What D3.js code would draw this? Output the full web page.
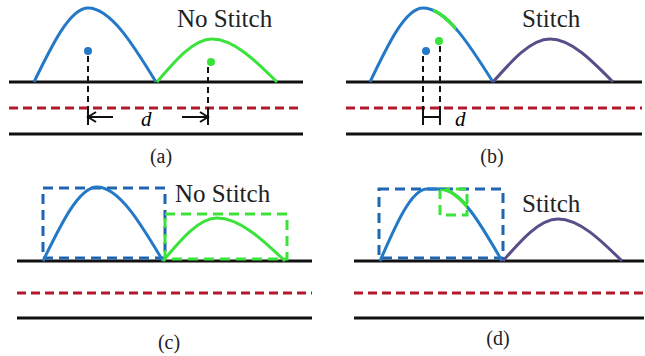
<!DOCTYPE html>
<html>
<head>
<meta charset="utf-8">
<script src="https://cdn.jsdelivr.net/npm/d3@7"></script>
<style>
  body { margin: 0; background: #fff; }
  svg { display: block; }
  text { font-family: "Liberation Serif", "Times New Roman", "DejaVu Serif", serif; }
</style>
</head>
<body>
<div id="viz"></div>
<script>
/*
 * Datos del diagrama (unidades locales de cada panel:
 * x = distancia desde el inicio de las pistas, y = altura sobre la pista superior)
 */
var panelLabels = ['(a)', '(b)', '(c)', '(d)'];
var panelTitles = ['No Stitch', 'Stitch', 'No Stitch', 'Stitch'];
var panelOriginX = [9, 346, 17, 354];
var panelBaseY = [82, 82, 261, 261];
var trackLevels = [[0, -26, -52], [0, -26, -52], [0, -32, -57], [0, -32, -57]];
var trackDashed = [false, true, false];
var trackLength = [294, 296, 295, 290];
var titleAt = [[168, 55], [176, 55], [158, 59], [168, 49]];
var labelAt = [[152, -81], [146, -81], [152, -88], [144, -84]];

//Arcos: [inicio, picoIzq, picoDer, fin, altura]
var firstArch = [[25, 79, 79, 147, 74], [24, 77, 77, 147, 74], [26, 80, 80, 146, 74], [26, 73, 86, 148, 72]];
var secondArch = [[148, 203, 203, 268, 43], [147, 204, 204, 267, 43], [146, 200, 200, 268, 43], [149, 204, 204, 268, 42]];
var secondStitched = [false, true, false, true];

//Centroides (paneles a y b): [x, altura, x de la linea vertical]
var blueDot = [[79, 31, 79], [80, 31, 77]];
var greenDot = [[202, 20, 199], [93, 41, 94]];
var distLabel = [[132, -44], [109, -44]];

//Segmento verde sobre el arco azul en (b): [x0, x1]
var stitchSpan = [87, 110];

//Cajas (paneles c y d): [x0, x1, alturaAbajo, alturaArriba]
var blueBox = [[26, 148, 3, 73], [25, 149, 3, 72]];
var greenBox = [[148, 270, 2, 47], [86, 113, 46, 72]];

/*
 * Colores
 */
var colBlue = '#2479c7';
var colBoxBlue = '#1f66ae';
var colGreen = '#3ae33a';
var colPurple = '#594d8a';
var colRed = '#b3192c';
var colBlack = '#111';

var width = 645, height = 356;

var svg = d3.select('#viz')
  .append('svg')
  .attr('width', width)
  .attr('height', height);
var defs = svg.append('defs');

//Genera el camino de un arco con las escalas del panel
function archPath(a, x, y) {
  var pts = [[a[0], 0], [a[1], a[4]]];
  if (a[2] > a[1]) pts.push([a[2], a[4]]);
  pts.push([a[3], 0]);
  return d3.line()
    .x(function(d) { return x(d[0]); })
    .y(function(d) { return y(d[1]); })
    .curve(d3.curveMonotoneX)(pts);
}

function drawPanel(i) {
  var x = d3.scaleLinear().domain([0, 300]).range([panelOriginX[i], panelOriginX[i] + 300]);
  var y = d3.scaleLinear().domain([0, 100]).range([panelBaseY[i], panelBaseY[i] - 100]);
  var g = svg.append('g');
  var second = secondStitched[i] ? colPurple : colGreen;

  //Pistas (negras y roja punteada)
  trackLevels[i].forEach(function(lv, k) {
    g.append('line')
      .attr('x1', x(0)).attr('x2', x(trackLength[i]))
      .attr('y1', y(lv)).attr('y2', y(lv))
      .attr('stroke', trackDashed[k] ? colRed : colBlack)
      .attr('stroke-width', 3)
      .attr('stroke-dasharray', trackDashed[k] ? '9,5' : null);
  });

  //Cajas punteadas (solo c y d)
  if (i >= 2) {
    var j = i - 2;
    [[blueBox[j], colBoxBlue], [greenBox[j], colGreen]].forEach(function(b) {
      var r = b[0];
      g.append('rect')
        .attr('x', x(r[0])).attr('y', y(r[3]))
        .attr('width', x(r[1]) - x(r[0]))
        .attr('height', y(r[2]) - y(r[3]))
        .attr('fill', 'none')
        .attr('stroke', b[1])
        .attr('stroke-width', 3)
        .attr('stroke-dasharray', '10,6');
    });
  }

  //Arcos
  g.append('path')
    .attr('d', archPath(firstArch[i], x, y))
    .attr('fill', 'none').attr('stroke', colBlue).attr('stroke-width', 3);
  g.append('path')
    .attr('d', archPath(secondArch[i], x, y))
    .attr('fill', 'none').attr('stroke', second).attr('stroke-width', 3);

  //Tramo verde cosido sobre el arco azul
  if (secondStitched[i]) {
    var clipId = 'clip' + i;
    var cp = defs.append('clipPath').attr('id', clipId).append('rect');
    if (i == 1) {
      cp.attr('x', x(stitchSpan[0])).attr('width', x(stitchSpan[1]) - x(stitchSpan[0]))
        .attr('y', 0).attr('height', height);
    } else {
      var gb = greenBox[1];
      cp.attr('x', x(gb[0])).attr('width', x(gb[1]) - x(gb[0]))
        .attr('y', y(gb[3])).attr('height', y(gb[2]) - y(gb[3]));
    }
    g.append('path')
      .attr('d', archPath(firstArch[i], x, y))
      .attr('fill', 'none').attr('stroke', colGreen).attr('stroke-width', 3.5)
      .attr('clip-path', 'url(#' + clipId + ')');
  }

  //Centroides, lineas verticales y distancia d (a y b)
  if (i < 2) {
    [[blueDot[i], colBlue], [greenDot[i], colGreen]].forEach(function(p) {
      var c = p[0];
      g.append('line')
        .attr('x1', x(c[2])).attr('x2', x(c[2]))
        .attr('y1', y(c[1] - 5)).attr('y2', y(-43))
        .attr('stroke', colBlack).attr('stroke-width', 2)
        .attr('stroke-dasharray', '6,4');
      g.append('line')
        .attr('x1', x(c[2])).attr('x2', x(c[2]))
        .attr('y1', y(-28)).attr('y2', y(-43))
        .attr('stroke', colBlack).attr('stroke-width', 2);
      g.append('circle')
        .attr('cx', x(c[0])).attr('cy', y(c[1]))
        .attr('r', 4).attr('fill', p[1]);
    });

    var xl = blueDot[i][2], xr = greenDot[i][2];
    if (i == 0) {
      //Flechas hacia afuera
      [[xl, 25, 1], [xr, -26, -1]].forEach(function(f) {
        g.append('line')
          .attr('x1', x(f[0])).attr('x2', x(f[0] + f[1]))
          .attr('y1', y(-35)).attr('y2', y(-35))
          .attr('stroke', colBlack).attr('stroke-width', 2);
        g.append('path')
          .attr('d', 'M' + x(f[0] + 8 * f[2]) + ',' + y(-30) +
                     'L' + x(f[0]) + ',' + y(-35) +
                     'L' + x(f[0] + 8 * f[2]) + ',' + y(-40))
          .attr('fill', 'none').attr('stroke', colBlack).attr('stroke-width', 2);
      });
    } else {
      g.append('line')
        .attr('x1', x(xl)).attr('x2', x(xr))
        .attr('y1', y(-35)).attr('y2', y(-35))
        .attr('stroke', colBlack).attr('stroke-width', 2);
    }
    g.append('text')
      .attr('x', x(distLabel[i][0])).attr('y', y(distLabel[i][1]))
      .style('font-style', 'italic')
      .style('font-size', '21px')
      .text('d');
  }

  //Titulo y etiqueta del panel
  g.append('text')
    .attr('x', x(titleAt[i][0])).attr('y', y(titleAt[i][1]))
    .style('font-size', '25px')
    .attr('fill', '#222')
    .text(panelTitles[i]);
  g.append('text')
    .attr('x', x(labelAt[i][0])).attr('y', y(labelAt[i][1]))
    .attr('text-anchor', 'middle')
    .style('font-size', '20px')
    .attr('fill', '#222')
    .text(panelLabels[i]);
}

for (var i = 0; i < panelLabels.length; i++) {
  drawPanel(i);
}
</script>
</body>
</html>
